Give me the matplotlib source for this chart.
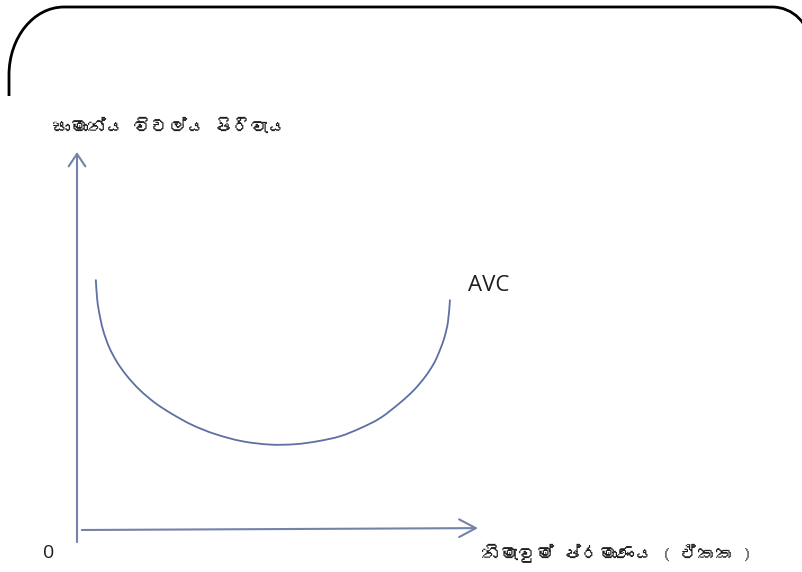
import matplotlib
matplotlib.use("Agg")
import matplotlib.pyplot as plt
from matplotlib import font_manager
from matplotlib.path import Path
from matplotlib.patches import PathPatch

# ---- data ----
quantity = [0.47, 0.50, 0.55, 0.65, 0.80, 1.00, 1.25, 1.57, 1.95, 2.37, 2.87, 3.44,
            4.11, 4.81, 5.44, 6.01, 6.56, 7.06, 7.56, 8.05, 8.40, 8.68, 8.88, 9.00,
            9.15, 9.25, 9.30]
avc = [6.61, 6.14, 5.77, 5.29, 4.84, 4.44, 4.07, 3.70, 3.36, 3.07, 2.78, 2.54,
       2.35, 2.26, 2.27, 2.35, 2.48, 2.69, 2.96, 3.36, 3.70, 4.05, 4.37, 4.63,
       5.05, 5.50, 6.08]
curve_label = "AVC"
y_label = "සාමාන්ය විචල්ය පිරිවැය"
x_label = "නිමැවුම් ප්රමාණය ( ඒකක )"
origin_label = "0"

# ---- fonts ----
def find_family(ch):
    try:
        from matplotlib.ft2font import FT2Font
    except Exception:
        return None
    seen = set()
    for f in font_manager.fontManager.ttflist:
        if f.fname in seen:
            continue
        seen.add(f.fname)
        try:
            if ord(ch) in FT2Font(f.fname).get_charmap():
                return f.name
        except Exception:
            pass
    return None

sinhala = find_family("ස")
sin_fam = ([sinhala] if sinhala else []) + ["Noto Sans", "DejaVu Sans"]
lat_fam = ["Open Sans", "DejaVu Sans"]

W, H = 803, 572
fig = plt.figure(figsize=(W / 100, H / 100), dpi=100)
fig.patch.set_facecolor("white")

# ---- rounded frame (decoration, figure pixel coords) ----
frame = fig.add_axes([0, 0, 1, 1])
frame.set_xlim(0, W)
frame.set_ylim(H, 0)
frame.axis("off")
top, left = 7, 9
k = 0.5523
rx, ry = 55, 68
rr = 38
verts = [(left, 96), (left, top + ry),
         (left, top + ry - k * ry), (left + rx - k * rx, top), (left + rx, top),
         (772, top),
         (772 + k * rr, top), (772 + rr, top + rr - k * rr), (772 + rr, top + rr)]
codes = [Path.MOVETO, Path.LINETO,
         Path.CURVE4, Path.CURVE4, Path.CURVE4,
         Path.LINETO,
         Path.CURVE4, Path.CURVE4, Path.CURVE4]
frame.add_patch(PathPatch(Path(verts, codes), fill=False, edgecolor="black",
                          lw=2.0, capstyle="butt", clip_on=False))

# ---- chart axes ----
x0, y0, x1, y1 = 77, 530, 478, 152
ax = fig.add_axes([x0 / W, (H - y0) / H, (x1 - x0) / W, (y0 - y1) / H])
ax.set_xlim(0, 10)
ax.set_ylim(0, 10)
ax.axis("off")

axis_col = "#7483a8"
curve_col = "#5d6fa3"

ax.annotate("", xy=(0, 10), xytext=(0, -0.32),
            arrowprops=dict(arrowstyle="->,head_length=0.45,head_width=0.3",
                            color=axis_col, lw=1.5, mutation_scale=20,
                            shrinkA=0, shrinkB=0), annotation_clip=False)
ax.annotate("", xy=(10, 0.05), xytext=(0.12, 0.0),
            arrowprops=dict(arrowstyle="->,head_length=0.6,head_width=0.32",
                            color=axis_col, lw=1.5, mutation_scale=20,
                            shrinkA=0, shrinkB=0), annotation_clip=False)

# smooth curve through the read points (Catmull-Rom rendered as Bezier segments)
pts = list(zip(quantity, avc))
cverts = [pts[0]]
ccodes = [Path.MOVETO]
n = len(pts)
for i in range(n - 1):
    p0 = pts[i - 1] if i > 0 else pts[i]
    p1 = pts[i]
    p2 = pts[i + 1]
    p3 = pts[i + 2] if i + 2 < n else pts[i + 1]
    c1 = (p1[0] + (p2[0] - p0[0]) / 6, p1[1] + (p2[1] - p0[1]) / 6)
    c2 = (p2[0] - (p3[0] - p1[0]) / 6, p2[1] - (p3[1] - p1[1]) / 6)
    cverts += [c1, c2, p2]
    ccodes += [Path.CURVE4] * 3
ax.add_patch(PathPatch(Path(cverts, ccodes), fill=False, edgecolor=curve_col,
                       lw=1.3, capstyle="round", clip_on=False))

ax.text(9.75, 6.48, curve_label, ha="left", va="center", fontsize=16,
        family=lat_fam, color="#1e1e1e", clip_on=False)
ax.text(-0.72, -0.61, origin_label, ha="center", va="center", fontsize=14,
        family=lat_fam, color="#1e1e1e", clip_on=False)
ax.text(-0.62, 10.66, y_label, ha="left", va="center", fontsize=13,
        family=sin_fam, color="#1e1e1e", clip_on=False)
ax.text(10.1, -0.61, x_label, ha="left", va="center", fontsize=13,
        family=sin_fam, color="#1e1e1e", clip_on=False)

fig.savefig("out.png", dpi=100, facecolor="white")
